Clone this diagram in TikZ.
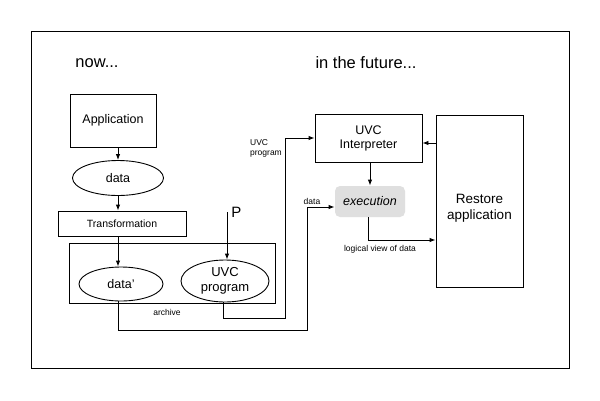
\documentclass[tikz,border=0pt]{standalone}
\usepackage{fontspec}
\setmainfont{Liberation Sans}
\usetikzlibrary{shapes.geometric,arrows.meta}
\begin{document}
\begin{tikzpicture}[x=1pt,y=-1pt,
  line width=0.9pt,
  box/.style={draw,rectangle,inner sep=0pt,align=center},
  oval/.style={draw,ellipse,inner sep=0pt,align=center},
  big/.style={font=\fontsize{12.5}{14}\selectfont},
  small/.style={font=\fontsize{8.5}{10}\selectfont,align=left,inner sep=0pt},
  title/.style={font=\fontsize{16.5}{18}\selectfont,inner sep=0pt},
  arr/.style={-{Latex[length=6pt,width=4.5pt]}}]
\useasboundingbox (0,0) rectangle (600,400);
\fill[white] (0,0) rectangle (600,400);
\draw (31,31) rectangle (569,368);
\node[title] (now) at (97,63) {now...};
\node[title] (fut) at (366,63) {in the future...};
% left part
\node[box,big,minimum width=86pt,minimum height=53pt] (app) at (113,120.5) {Application};
\node[oval,big,minimum width=91pt,minimum height=35pt] (dat) at (118,178) {data};
\node[box,font=\fontsize{10.5}{12}\selectfont,minimum width=128pt,minimum height=25pt] (trans) at (122,223.5) {Transformation};
\node[box,minimum width=206pt,minimum height=60pt] (arch) at (172,273) {};
\node[oval,big,minimum width=84pt,minimum height=34pt] (datap) at (121,284) {data'};
\node[oval,big,minimum width=88pt,minimum height=42pt,font=\fontsize{13}{14.5}\selectfont] (uvcp) at (225,281) {UVC\\program};
\node[small] (archl) at (167,312) {archive};
\coordinate (P) at (227,212);
\node[font=\fontsize{15}{16}\selectfont,inner sep=0pt,anchor=west] (Pl) at (231,212) {P};
% right part
\node[box,big,minimum width=107pt,minimum height=48pt] (interp) at (368.5,138) {UVC\\Interpreter};
\node[fill=gray!25,rounded corners=5pt,minimum width=70pt,minimum height=31pt,inner sep=0pt,font=\itshape\fontsize{12.5}{14}\selectfont] (exec) at (370,201.5) {execution};
\node[box,minimum width=87pt,minimum height=172pt] (rest) at (479.5,201) {};
\node[font=\fontsize{13.5}{16}\selectfont,align=center,inner sep=0pt] (restl) at (479.5,208) {Restore\\application};
\node[small] (uvcl) at (266,148) {UVC\\program};
\node[small] (datl) at (312,201) {data};
\node[small] (logl) at (380,249) {logical view of data};
% connectors
\draw[arr] (app.south -| dat.north) -- (dat.north);
\draw[arr] (dat.south) -- (dat.south |- trans.north);
\draw[arr] (dat.south |- trans.south) -- (dat.south |- datap.north);
\draw[arr] (P) -- (P |- uvcp.north);
\coordinate (c1) at (223,318);
\coordinate (c2) at (285,318);
\draw[arr] (uvcp.south -| c1) -- (c1) -- (c2) -- (c2 |- interp.west) -- (interp.west);
\coordinate (d1) at (118,330);
\coordinate (d2) at (307,330);
\coordinate (d3) at (307,207);
\draw[arr] (d1 |- datap.south) -- (d1) -- (d2) -- (d3) -- (d3 -| exec.west);
\draw[arr] (interp.south -| exec.north) -- (exec.north);
\coordinate (e1) at (368,240);
\draw[arr] (exec.south -| e1) -- (e1) -- (e1 -| rest.west);
\coordinate (r1) at (436,143);
\draw[arr] (r1) -- (r1 -| interp.east);
\end{tikzpicture}
\end{document}
